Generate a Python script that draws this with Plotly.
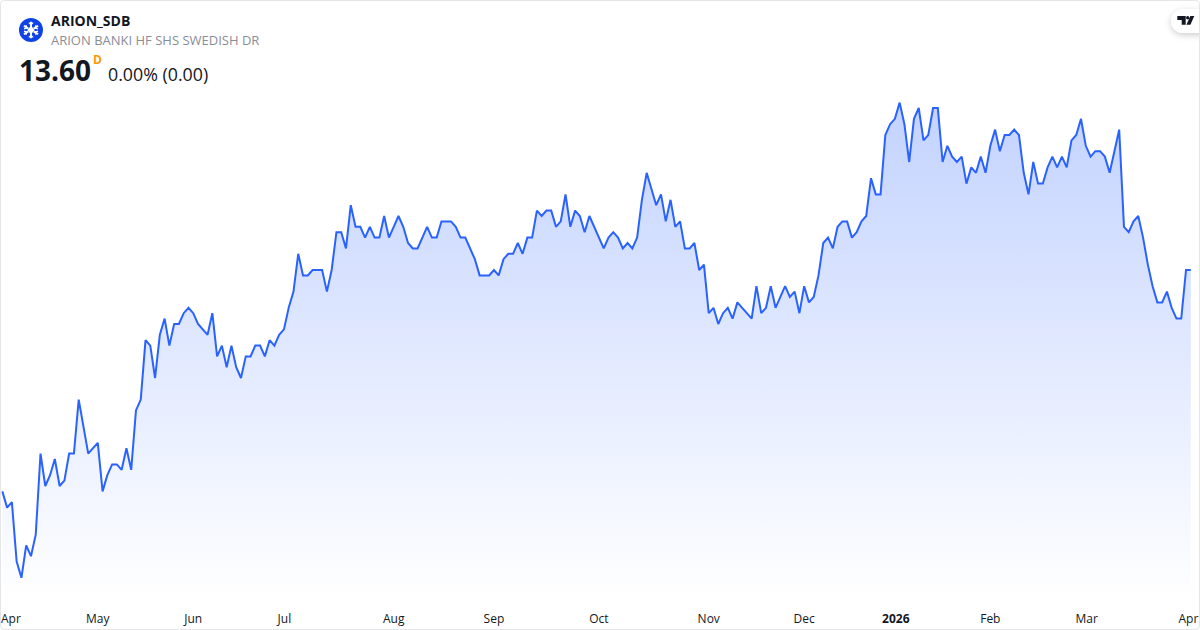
import base64
import plotly.graph_objects as go

symbol = "ARION_SDB"
description = "ARION BANKI HF SHS SWEDISH DR"
last_price = "13.60"
resolution = "D"
change_text = "0.00% (0.00)"

tick_labels = ["Apr", "May", "Jun", "Jul", "Aug", "Sep", "Oct", "Nov", "Dec", "<b>2026</b>", "Feb", "Mar", "Apr"]
tick_index = [1.8, 20, 40, 59.1, 82, 103, 125, 148, 168, 187.2, 207, 227.2, 248.5]

prices_apr_jun = [
    11.55, 11.40, 11.45, 10.90, 10.75, 11.05, 10.95, 11.15, 11.90, 11.60, 11.70, 11.85, 11.60, 11.65, 11.90, 11.90,
    12.40, 12.15, 11.90, 11.95, 12.00, 11.55, 11.70, 11.80, 11.80, 11.75, 11.95, 11.75, 12.30, 12.40, 12.95, 12.90,
    12.60, 13.00, 13.15, 12.90, 13.10, 13.10, 13.20, 13.25, 13.20, 13.10, 13.05, 13.00, 13.20, 12.80, 12.90, 12.70,
    12.90, 12.70, 12.60, 12.80, 12.80, 12.90, 12.90, 12.80, 12.95, 12.90, 13.00, 13.05, 13.25, 13.40,
]
prices_jul_sep = [
    13.75, 13.55, 13.55, 13.60, 13.60, 13.60, 13.40, 13.60, 13.95, 13.95, 13.80, 14.20, 14.00, 14.00, 13.90, 14.00,
    13.90, 13.90, 14.10, 13.90, 14.00, 14.10, 14.00, 13.85, 13.80, 13.80, 13.90, 14.00, 13.90, 13.90, 14.05, 14.05,
    14.05, 14.00, 13.90, 13.90, 13.80, 13.70, 13.55, 13.55, 13.55, 13.60, 13.55, 13.70, 13.75, 13.75, 13.85, 13.75,
    13.90, 13.90, 14.15, 14.10, 14.15, 14.15, 14.00, 14.05, 14.30, 14.00, 14.15, 14.10, 13.95, 14.10, 14.00, 13.90,
]
prices_oct_dec = [
    13.80, 13.90, 13.95, 13.90, 13.80, 13.85, 13.80, 13.90, 14.25, 14.50, 14.35, 14.20, 14.30, 14.05, 14.25, 14.00,
    14.05, 13.80, 13.80, 13.85, 13.60, 13.65, 13.20, 13.25, 13.10, 13.20, 13.25, 13.15, 13.30, 13.25, 13.20, 13.15,
    13.45, 13.20, 13.25, 13.45, 13.25, 13.35, 13.45, 13.35, 13.40, 13.20, 13.45, 13.30, 13.35, 13.55, 13.85, 13.90,
    13.80, 14.00, 14.05, 14.05, 13.90, 13.95, 14.05, 14.10, 14.45, 14.30, 14.30,
]
prices_jan_apr = [
    14.85, 14.95, 15.00, 15.15, 14.95, 14.60, 15.00, 15.10, 14.80, 14.85, 15.10, 15.10, 14.60, 14.75, 14.65, 14.60,
    14.65, 14.40, 14.55, 14.50, 14.65, 14.50, 14.75, 14.90, 14.70, 14.85, 14.85, 14.90, 14.85, 14.50, 14.30, 14.60,
    14.40, 14.40, 14.55, 14.65, 14.55, 14.65, 14.55, 14.80, 14.85, 15.00, 14.75, 14.65, 14.70, 14.70, 14.65, 14.50,
    14.70, 14.90, 14.00, 13.95, 14.05, 14.10, 13.90, 13.65, 13.45, 13.30, 13.30, 13.40, 13.25, 13.15, 13.15, 13.60,
    13.60,
]
prices = prices_apr_jun + prices_jul_sep + prices_oct_dec + prices_jan_apr
sessions = list(range(len(prices)))

W, H, PLOT_H = 1200, 630, 600


def px(x):
    return x / W


def py(y):
    return (PLOT_H - y) / PLOT_H


FONT = "Open Sans, Noto Sans, sans-serif"

fig = go.Figure(
    go.Scatter(
        x=sessions,
        y=prices,
        mode="lines",
        line=dict(color="#2962ff", width=2),
        fill="tozeroy",
        fillcolor="rgba(41,98,255,0.2)",
        fillgradient=dict(
            type="vertical",
            start=15.15,
            stop=10.55,
            colorscale=[[0, "rgba(41,98,255,0.28)"], [1, "rgba(41,98,255,0.0)"]],
        ),
        hoverinfo="skip",
    )
)


def text(x, y, s, size, color, anchor="left"):
    fig.add_annotation(
        x=px(x), y=py(y), xref="paper", yref="paper", text=s, showarrow=False,
        xanchor=anchor, yanchor="middle", align="left",
        font=dict(family=FONT, size=size, color=color), borderpad=0,
    )


text(50, 20.6, f"<b>{symbol}</b>", 14, "#131722")
text(50, 40, description, 13, "#8a8d96")
text(18, 70, f"<b>{last_price}</b>", 28, "#131722")
text(92, 60, f"<b>{resolution}</b>", 12, "#ff9800")
text(107, 74, change_text, 17.8, "#131722")

logo_svg = """<svg xmlns='http://www.w3.org/2000/svg' width='24' height='24' viewBox='0 0 24 24'>
<circle cx='12' cy='12' r='12' fill='#0f43e6'/>
<g stroke='#fff' stroke-width='1.9' stroke-linecap='butt' fill='none'>
<path d='M12 3.8V9M12 15V20.2M4.9 7.9L9.4 10.5M14.6 13.5L19.1 16.1M4.9 16.1L9.4 13.5M14.6 10.5L19.1 7.9'/>
<path d='M9.8 4.6L12 6.6L14.2 4.6M9.8 19.4L12 17.4L14.2 19.4M5 10.8L7.8 10L7 7.1M19 13.2L16.2 14L17 16.9M5 13.2L7.8 14L7 16.9M19 10.8L16.2 10L17 7.1' stroke-width='1.2'/></g>
<path d='M12 7.8L15.8 12L12 16.2L8.2 12Z' fill='#fff'/></svg>"""

tv_svg = """<svg xmlns='http://www.w3.org/2000/svg' width='44' height='44' viewBox='0 0 44 44'>
<defs><filter id='s' x='-30%' y='-40%' width='160%' height='200%'><feDropShadow dx='0' dy='2' stdDeviation='3' flood-color='#000' flood-opacity='0.2'/></filter></defs>
<rect x='15' y='9' width='60' height='24' rx='12' fill='#fff' filter='url(#s)'/>
<path fill='#131722' d='M21.3 16h8.4v8.7h-4v-4.7h-4.4z'/>
<circle cx='31.7' cy='17.8' r='1.7' fill='#131722'/>
<path fill='#131722' d='M30.4 24.7l4-8.7h3.9l-3.9 8.7z'/></svg>"""


def uri(svg):
    return "data:image/svg+xml;base64," + base64.b64encode(svg.encode()).decode()


fig.update_layout(
    width=W,
    height=H,
    margin=dict(l=0, r=0, t=0, b=H - PLOT_H, pad=0),
    paper_bgcolor="#ffffff",
    plot_bgcolor="#ffffff",
    showlegend=False,
    hovermode=False,
    xaxis=dict(
        range=[-0.488, 250.93],
        tickmode="array",
        tickvals=tick_index,
        ticktext=tick_labels,
        ticks="outside",
        ticklen=8,
        tickcolor="rgba(0,0,0,0)",
        showgrid=False,
        zeroline=False,
        showline=False,
        tickfont=dict(family=FONT, size=12, color="#131722"),
        tickangle=0,
        fixedrange=True,
    ),
    yaxis=dict(
        range=[10.5444, 16.1],
        visible=False,
        fixedrange=True,
    ),
    images=[
        dict(source=uri(logo_svg), xref="paper", yref="paper", x=px(19), y=py(18),
             sizex=24 / W, sizey=24 / PLOT_H, xanchor="left", yanchor="top", layer="above"),
        dict(source=uri(tv_svg), xref="paper", yref="paper", x=px(1156), y=py(0),
             sizex=44 / W, sizey=44 / PLOT_H, xanchor="left", yanchor="top", layer="above"),
    ],
    shapes=[
        dict(type="path", xref="paper", yref="paper", layer="above", line=dict(color="#e6e6e8", width=1),
             path=f"M {px(0.5)} {py(4)} Q {px(0.5)} {py(0.5)} {px(4)} {py(0.5)} L {px(1196)} {py(0.5)} "
                  f"Q {px(1199.5)} {py(0.5)} {px(1199.5)} {py(4)} L {px(1199.5)} {py(626)} "
                  f"Q {px(1199.5)} {py(629.5)} {px(1196)} {py(629.5)} L {px(4)} {py(629.5)} "
                  f"Q {px(0.5)} {py(629.5)} {px(0.5)} {py(626)} Z"),
    ],
)

assert len(prices) == 250, len(prices)
fig.write_html(
    "out.html",
    config=dict(displayModeBar=False),
    post_script="document.body.style.margin='0';document.documentElement.style.overflow='hidden';",
)
